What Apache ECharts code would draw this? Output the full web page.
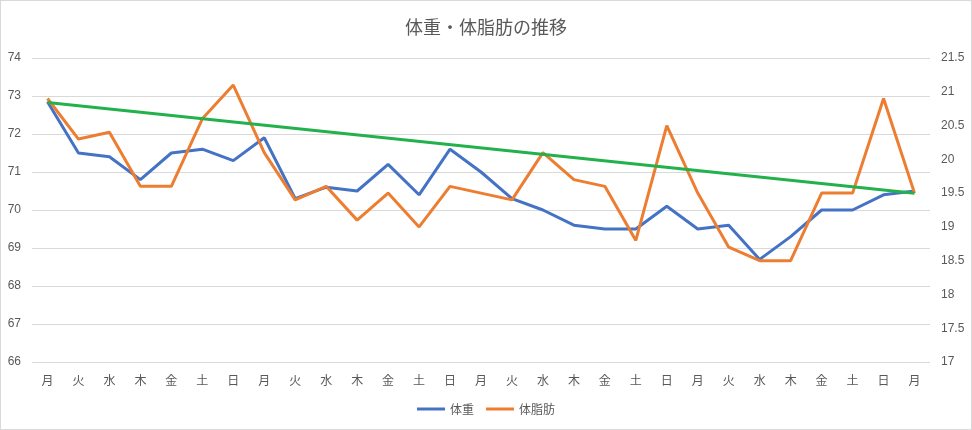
<!DOCTYPE html>
<html>
<head>
<meta charset="utf-8">
<script src="https://cdn.jsdelivr.net/npm/echarts@6/dist/echarts.min.js"></script>
<style>
html,body{margin:0;padding:0;background:#fff;}
#c{width:972px;height:430px;box-sizing:border-box;border:1px solid #d9d9d9;}
</style>
</head>
<body>
<div id="c"></div>
<script>
const categories = ['月','火','水','木','金','土','日','月','火','水','木','金','土','日','月','火','水','木','金','土','日','月','火','水','木','金','土','日','月'];
const weight = [72.85,71.5,71.4,70.8,71.5,71.6,71.3,71.9,70.3,70.6,70.5,71.2,70.4,71.6,71.0,70.3,70.0,69.6,69.5,69.5,70.1,69.5,69.6,68.7,69.3,70.0,70.0,70.4,70.5];
const bodyFat = [20.9,20.3,20.4,19.6,19.6,20.6,21.1,20.1,19.4,19.6,19.1,19.5,19.0,19.6,19.5,19.4,20.1,19.7,19.6,18.8,20.5,19.5,18.7,18.5,18.5,19.5,19.5,20.9,19.5];
const trendLine = [[0,72.83],[28,70.44]];
const leftTicks = [66,74,1];
const rightTicks = [17,21.5,0.5];

const font = '"Noto Sans CJK JP", "Noto Sans", sans-serif';
const chart = echarts.init(document.getElementById('c'));
chart.setOption({
  animation:false,
  textStyle:{fontFamily:font},
  title:{text:'体重・体脂肪の推移',left:'center',top:12,
    textStyle:{fontFamily:font,fontSize:18,fontWeight:'normal',color:'#595959'}},
  legend:{bottom:9,left:'center',itemWidth:28,itemHeight:3,itemGap:12,icon:'rect',
    data:['体重','体脂肪'],
    textStyle:{fontFamily:font,fontSize:12,color:'#595959'}},
  grid:{left:31,right:41,top:57,bottom:67},
  xAxis:{type:'category',data:categories,boundaryGap:true,
    axisLine:{show:false},axisTick:{show:false},
    axisLabel:{color:'#595959',fontSize:12,margin:12,interval:0,fontFamily:font}},
  yAxis:[
    {type:'value',min:leftTicks[0],max:leftTicks[1],interval:leftTicks[2],
     axisLine:{show:false},axisTick:{show:false},
     splitLine:{lineStyle:{color:'#d9d9d9',width:1}},
     axisLabel:{color:'#595959',fontSize:12,margin:11,fontFamily:'"Liberation Sans", sans-serif'}},
    {type:'value',min:rightTicks[0],max:rightTicks[1],interval:rightTicks[2],
     axisLine:{show:false},axisTick:{show:false},splitLine:{show:false},
     axisLabel:{color:'#595959',fontSize:12,margin:11,fontFamily:'"Liberation Sans", sans-serif'}}
  ],
  series:[
    {name:'体重',type:'line',yAxisIndex:0,data:weight,symbol:'none',
     lineStyle:{color:'#4472C4',width:3},itemStyle:{color:'#4472C4'},z:3},
    {name:'体脂肪',type:'line',yAxisIndex:1,data:bodyFat,symbol:'none',
     lineStyle:{color:'#ED7D31',width:3},itemStyle:{color:'#ED7D31'},z:4},
    {name:'傾向',type:'line',yAxisIndex:0,data:trendLine,symbol:'none',
     lineStyle:{color:'#22B14C',width:3},itemStyle:{color:'#22B14C'},z:5}
  ]
});
</script>
</body>
</html>
